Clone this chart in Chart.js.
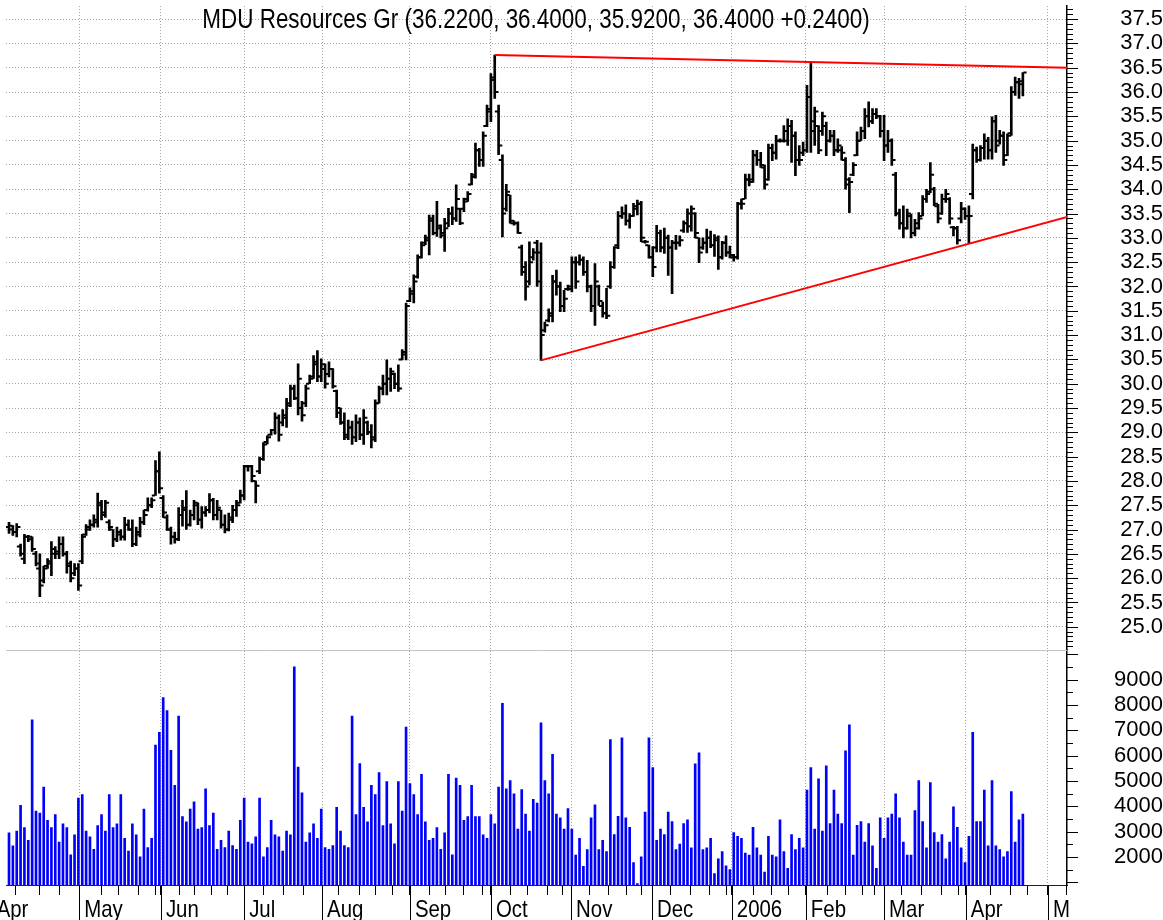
<!DOCTYPE html>
<html>
<head>
<meta charset="utf-8">
<script src="https://cdn.jsdelivr.net/npm/chart.js@4.4.1/dist/chart.umd.min.js"></script>
<style>
  html, body { margin: 0; padding: 0; background: #fff; overflow: hidden; }
  canvas { display: block; }
</style>
</head>
<body>
<canvas id="chart" width="1163" height="920"></canvas>
<script>
const title = 'MDU Resources Gr (36.2200, 36.4000, 35.9200, 36.4000 +0.2400)';

// daily bars, Apr 2005 - Apr 2006 (one entry per trading day)
const opens = [
  27.05, 27.0, 26.95, 26.65, 26.4, 26.85, 26.8, 26.5, 26.2, 25.95,
  26.25, 26.3, 26.5, 26.5, 26.7, 26.5, 26.25, 26.1, 26.2, 26.35,
  26.9, 27.05, 27.1, 27.15, 27.5, 27.35, 27.15, 27.0, 26.8, 26.9,
  26.85, 27.1, 27.0, 26.7, 26.9, 27.15, 27.4, 27.5, 27.7, 28.2,
  27.65, 27.25, 27.0, 26.85, 26.8, 27.3, 27.4, 27.1, 27.3, 27.5,
  27.2, 27.35, 27.4, 27.6, 27.3, 27.4, 27.1, 27.0, 27.2, 27.4,
  27.55, 27.7, 28.3, 28.3, 28.0, 28.2, 28.45, 28.8, 28.95, 29.05,
  29.3, 29.2, 29.3, 29.6, 29.9, 29.7, 29.5, 29.6, 30.0, 30.15,
  30.4, 30.15, 30.3, 30.2, 30.3, 29.85, 29.4, 29.2, 28.9, 29.1,
  28.9, 29.2, 28.95, 29.2, 29.0, 28.9, 29.6, 29.9, 30.0, 30.1,
  30.2, 30.0, 30.5, 30.6, 31.7, 31.9, 32.2, 32.6, 32.9, 33.0,
  33.4, 33.1, 33.2, 33.1, 33.3, 33.5, 33.4, 33.6, 33.6, 33.8,
  34.1, 34.3, 34.8, 34.6, 35.3, 35.6, 36.3, 35.6, 34.6, 33.6,
  33.88, 33.3, 33.3, 32.8, 32.3, 32.1, 32.6, 32.9, 32.7, 31.1,
  31.3, 31.4, 32.1, 32.0, 31.6, 31.95, 31.95, 32.5, 32.5, 32.55,
  32.3, 32.0, 31.6, 32.0, 31.6, 31.45, 32.0, 32.4, 32.85, 33.45,
  33.5, 33.35, 33.45, 33.6, 33.7, 32.92, 32.85, 32.6, 32.8, 33.1,
  32.8, 33.0, 32.8, 32.9, 32.9, 33.15, 33.3, 33.5, 33.5, 33.0,
  32.8, 32.9, 33.0, 32.85, 32.95, 32.6, 32.9, 32.7, 32.6, 32.6,
  33.7, 33.8, 34.2, 34.2, 34.7, 34.6, 34.45, 34.2, 34.85, 34.75,
  35.0, 35.0, 35.0, 35.3, 35.1, 34.6, 34.75, 34.8, 35.9, 35.4,
  35.3, 35.2, 35.3, 35.0, 35.1, 34.8, 34.8, 34.6, 34.1, 34.3,
  34.7, 35.0, 35.2, 35.5, 35.4, 35.55, 35.5, 35.2, 34.9, 35.0,
  34.3, 33.5, 33.3, 33.2, 33.45, 33.1, 33.2, 33.45, 33.8, 33.95,
  34.0, 33.65, 33.5, 33.8, 33.8, 33.22, 33.2, 33.4, 33.6, 33.45,
  33.9, 34.8, 34.6, 34.85, 35.0, 34.8, 35.4, 35.0, 35.1, 34.7,
  35.15, 36.0, 36.2, 36.22
];
const highs = [
  27.15, 27.08, 27.12, 26.7, 26.9, 26.88, 26.85, 26.55, 26.5, 26.25,
  26.4, 26.75, 26.65, 26.85, 26.85, 26.55, 26.35, 26.3, 26.3, 26.9,
  27.1, 27.2, 27.3, 27.75, 27.6, 27.6, 27.2, 27.0, 27.05, 27.0,
  27.25, 27.2, 27.2, 27.05, 27.25, 27.4, 27.65, 27.65, 28.42, 28.6,
  27.7, 27.3, 27.05, 26.95, 27.45, 27.6, 27.8, 27.4, 27.6, 27.55,
  27.47, 27.47, 27.74, 27.64, 27.6, 27.4, 27.3, 27.34, 27.5, 27.6,
  27.81, 28.32, 28.32, 28.32, 28.0, 28.49, 28.79, 28.93, 29.06, 29.4,
  29.36, 29.47, 29.7, 29.97, 29.97, 30.41, 29.64, 29.97, 30.18, 30.58,
  30.68, 30.51, 30.41, 30.45, 30.31, 29.87, 29.5, 29.4, 29.25, 29.23,
  29.36, 29.3, 29.47, 29.23, 29.16, 29.67, 29.95, 30.18, 30.49, 30.32,
  30.22, 30.39, 30.7, 31.66, 31.97, 32.24, 32.65, 32.92, 33.06, 33.47,
  33.47, 33.75, 33.27, 33.4, 33.61, 33.64, 34.09, 33.61, 33.82, 33.95,
  34.33, 34.95, 34.84, 35.18, 35.73, 36.38, 36.76, 35.73, 34.71, 34.1,
  33.88, 33.35, 33.33, 32.85, 32.51, 32.92, 32.78, 32.95, 32.9, 31.27,
  31.54, 32.23, 32.34, 32.09, 31.92, 32.03, 32.61, 32.61, 32.65, 32.61,
  32.54, 32.03, 32.47, 32.03, 31.68, 31.96, 32.51, 32.82, 33.54, 33.64,
  33.68, 33.5, 33.71, 33.78, 33.75, 32.95, 32.85, 32.82, 33.26, 33.16,
  33.2, 33.06, 32.95, 33.05, 33.04, 33.35, 33.6, 33.66, 33.52, 33.0,
  33.0, 33.18, 33.14, 33.07, 33.04, 32.93, 33.04, 32.83, 32.66, 33.73,
  33.8, 34.31, 34.31, 34.8, 34.8, 34.76, 34.49, 34.93, 34.93, 35.11,
  35.04, 35.31, 35.45, 35.42, 35.18, 34.9, 34.97, 36.14, 36.62, 35.69,
  35.31, 35.59, 35.38, 35.21, 35.21, 35.04, 34.88, 34.65, 34.24, 34.55,
  35.18, 35.28, 35.66, 35.8, 35.66, 35.66, 35.52, 35.52, 35.21, 35.04,
  34.35, 33.59, 33.66, 33.59, 33.49, 33.38, 33.52, 33.87, 34.0, 34.55,
  34.04, 33.69, 33.9, 34.0, 33.83, 33.24, 33.24, 33.73, 33.62, 33.66,
  34.93, 34.87, 34.9, 35.14, 35.07, 35.49, 35.52, 35.21, 35.18, 35.14,
  36.11, 36.31, 36.28, 36.4
];
const lows = [
  26.92, 26.88, 26.85, 26.45, 26.3, 26.75, 26.55, 26.25, 25.62, 25.9,
  26.2, 26.05, 26.4, 26.4, 26.45, 26.1, 25.92, 26.05, 25.75, 26.3,
  26.88, 26.98, 27.05, 27.05, 27.2, 27.25, 26.98, 26.65, 26.75, 26.78,
  26.78, 26.98, 26.65, 26.67, 26.85, 27.1, 27.38, 27.45, 27.7, 27.75,
  27.25, 26.98, 26.7, 26.72, 26.77, 27.07, 27.0, 27.07, 27.2, 27.1,
  27.03, 27.27, 27.34, 27.2, 27.2, 27.03, 26.93, 26.97, 27.14, 27.27,
  27.54, 27.61, 28.2, 27.98, 27.55, 28.15, 28.42, 28.76, 28.94, 28.96,
  28.82, 29.13, 29.1, 29.53, 29.67, 29.36, 29.23, 29.53, 30.0, 30.11,
  30.04, 30.04, 29.91, 30.14, 29.91, 29.3, 29.16, 28.85, 28.85, 28.75,
  28.81, 28.85, 28.75, 28.95, 28.68, 28.81, 29.6, 29.77, 29.77, 29.84,
  29.9, 29.84, 30.49, 30.49, 31.69, 31.66, 32.17, 32.58, 32.86, 32.65,
  33.06, 33.03, 33.0, 32.72, 33.23, 33.27, 33.34, 33.27, 33.54, 33.75,
  34.09, 34.23, 34.47, 34.47, 35.29, 35.39, 35.87, 34.71, 33.02, 33.55,
  33.3, 33.26, 33.09, 32.23, 31.72, 32.03, 32.54, 32.0, 30.48, 31.06,
  31.27, 31.27, 31.82, 31.48, 31.48, 31.92, 31.89, 31.96, 32.44, 32.23,
  31.89, 31.48, 31.2, 31.61, 31.37, 31.34, 31.96, 32.37, 32.78, 33.4,
  33.26, 33.2, 33.44, 33.47, 32.92, 32.89, 32.58, 32.2, 32.71, 32.71,
  32.68, 32.23, 31.85, 32.76, 32.83, 33.11, 33.11, 33.14, 33.0, 32.49,
  32.76, 32.69, 32.8, 32.62, 32.35, 32.56, 32.62, 32.59, 32.52, 32.56,
  33.59, 33.8, 34.07, 34.14, 34.49, 34.45, 34.0, 34.18, 34.59, 34.62,
  34.97, 34.97, 34.9, 34.55, 34.28, 34.49, 34.69, 34.76, 34.76, 34.9,
  34.73, 35.11, 34.69, 34.97, 34.69, 34.76, 34.6, 34.0, 33.52, 34.28,
  34.69, 35.0, 35.04, 35.28, 35.35, 35.45, 35.07, 34.59, 34.76, 34.49,
  33.45, 33.18, 33.0, 33.18, 33.0, 33.04, 33.18, 33.45, 33.73, 33.93,
  33.66, 33.31, 33.48, 33.73, 33.28, 33.04, 32.87, 33.31, 33.38, 32.9,
  33.8, 34.55, 34.58, 34.62, 34.62, 34.62, 34.76, 34.93, 34.49, 34.69,
  35.11, 35.93, 35.87, 35.92
];
const closes = [
  27.08, 26.95, 27.05, 26.5, 26.85, 26.85, 26.6, 26.3, 25.85, 26.2,
  26.35, 26.6, 26.55, 26.7, 26.5, 26.3, 26.0, 26.2, 25.85, 26.85,
  27.0, 27.1, 27.2, 27.55, 27.3, 27.55, 27.05, 26.8, 26.95, 26.85,
  27.1, 27.0, 26.7, 26.95, 27.15, 27.3, 27.5, 27.6, 28.2, 27.85,
  27.35, 27.0, 26.85, 26.8, 27.3, 27.45, 27.1, 27.3, 27.55, 27.2,
  27.35, 27.4, 27.6, 27.3, 27.45, 27.1, 27.0, 27.25, 27.4, 27.5,
  27.7, 28.3, 28.3, 28.1, 27.9, 28.45, 28.75, 28.9, 29.05, 29.3,
  28.95, 29.35, 29.55, 29.9, 29.7, 30.1, 29.35, 29.9, 30.1, 30.45,
  30.15, 30.4, 30.0, 30.3, 29.95, 29.5, 29.2, 28.95, 29.1, 28.9,
  29.2, 28.95, 29.3, 29.0, 28.85, 29.6, 29.9, 30.0, 30.1, 30.25,
  30.0, 29.9, 30.65, 31.6, 31.85, 32.1, 32.6, 32.85, 32.95, 33.35,
  33.1, 33.25, 33.05, 33.2, 33.5, 33.4, 33.8, 33.3, 33.75, 33.9,
  34.25, 34.8, 34.6, 35.1, 35.65, 36.25, 36.0, 34.9, 33.5, 33.95,
  33.35, 33.3, 33.1, 32.4, 32.0, 32.5, 32.7, 32.1, 31.0, 31.2,
  31.45, 32.1, 32.0, 31.6, 31.75, 32.0, 32.5, 32.1, 32.55, 32.3,
  32.0, 31.6, 32.1, 31.7, 31.45, 31.4, 32.4, 32.8, 33.45, 33.5,
  33.35, 33.45, 33.65, 33.7, 33.0, 32.92, 32.6, 32.4, 33.1, 32.8,
  33.0, 32.8, 32.9, 32.9, 32.95, 33.3, 33.24, 33.6, 33.1, 32.7,
  32.9, 33.0, 32.85, 33.0, 32.6, 32.9, 32.7, 32.65, 32.6, 33.7,
  33.7, 34.2, 34.15, 34.7, 34.6, 34.5, 34.1, 34.85, 34.75, 35.0,
  35.0, 35.2, 35.3, 35.1, 34.6, 34.6, 34.8, 35.9, 35.2, 35.6,
  34.8, 35.5, 35.0, 35.1, 34.8, 34.9, 34.75, 34.2, 34.15, 34.5,
  35.0, 35.2, 35.5, 35.4, 35.55, 35.5, 35.2, 34.9, 35.0, 34.6,
  33.5, 33.3, 33.2, 33.5, 33.1, 33.3, 33.4, 33.8, 33.9, 34.3,
  33.7, 33.4, 33.8, 33.9, 33.4, 33.2, 32.95, 33.6, 33.45, 33.45,
  34.8, 34.6, 34.85, 35.0, 34.8, 35.4, 34.9, 35.1, 34.6, 35.1,
  36.0, 36.2, 36.16, 36.4
];
const volumes = [
  2952, 2432, 3017, 4031, 3160, 2653, 7411, 3810, 3732, 4759,
  3446, 3160, 3667, 2588, 3303, 3160, 2081, 2874, 4317, 4460,
  3017, 2796, 2302, 3238, 3667, 3017, 4460, 3160, 3303, 4460,
  2731, 2224, 3303, 2874, 2003, 3888, 2367, 2731, 6410, 6917,
  8282, 7775, 6202, 4824, 7554, 3589, 3381, 3888, 4174, 3095,
  3160, 4681, 3238, 3732, 2302, 2653, 2367, 3017, 2445, 2302,
  3446, 4317, 2588, 2510, 2796, 4317, 2003, 2367, 3446, 2874,
  2796, 2224, 3017, 2874, 9504, 5539, 4525, 2588, 2952, 3303,
  2731, 3888, 2367, 2302, 2445, 3953, 3017, 2445, 2367, 7554,
  3667, 5682, 3953, 3381, 4824, 4460, 5331, 3238, 4967, 3303,
  2510, 4967, 3810, 7125, 4889, 4460, 3667, 5253, 3381, 2653,
  2731, 3160, 2302, 2952, 5253, 2081, 5110, 4824, 3446, 3589,
  4824, 3589, 3589, 2874, 2731, 3667, 3303, 4759, 8061, 4681,
  5010, 4493, 3101, 4652, 3684, 3021, 4268, 4122, 7291, 5010,
  4493, 6044, 3684, 3538, 3101, 3910, 3101, 2066, 2729, 1629,
  2292, 3538, 4055, 2292, 2650, 2212, 6628, 2875, 3605, 6694,
  3538, 3167, 1775, 950, 2000, 3764, 6694, 5527, 2650, 3101,
  2875, 3764, 3393, 2292, 2504, 3313, 3459, 2358, 5673, 6111,
  2292, 2358, 2729, 1337, 1921, 2212, 1642, 1496, 2955, 2809,
  2729, 2146, 2066, 3167, 2358, 2066, 1403, 2809, 2066, 2000,
  3459, 2212, 1549, 2875, 2292, 2729, 2358, 4639, 5527, 3101,
  5076, 3021, 5594, 3313, 4639, 3684, 3313, 6190, 7211, 2066,
  3247, 3393, 2584, 3313, 2438, 1549, 3538, 2729, 3538, 3684,
  4493, 3538, 2584, 2066, 2066, 3830, 5010, 3393, 2358, 4931,
  2955, 2584, 2875, 1921, 2584, 3976, 3167, 2358, 1775, 2809,
  6919, 3393, 3393, 4639, 2438, 5010, 2438, 2292, 2000, 2212,
  4573, 2584, 3459, 3684
];

// x axis: bar index where each month starts, and weekly ticks
const monthTicks = [-4.5, 18.2, 39.4, 61, 81.2, 104, 125, 145.8, 166.8, 187.5, 206.7, 227, 248.2, 269.5];
const monthLabels = ['Apr', 'May', 'Jun', 'Jul', 'Aug', 'Sep', 'Oct', 'Nov', 'Dec', '2006', 'Feb', 'Mar', 'Apr', 'M'];
const weekTicks = [1.8, 7.8, 13, 23.9, 28.5, 33.5, 37.9, 44.1, 48, 52.4, 56.8, 65.9, 71.3, 76.3,
  85.6, 90.8, 95.2, 99.6, 109, 113.1, 118, 122.7, 130.2, 134.6, 139.6, 143.7, 150.7, 155.4,
  160.3, 164.2, 171.7, 176.7, 181.6, 186, 193, 197.9, 202.1, 212.2, 216.9, 221.3, 224.6,
  231.4, 236.6, 241.8, 246.2, 254.7, 259.7, 264.1, 274.2];

// trend lines drawn on the chart: [bar index, price]
const upperTrend = [[126, 36.76], [274.5, 36.5]];
const lowerTrend = [[138, 30.48], [274.5, 33.43]];

const sans = '"Liberation Sans", Arial, sans-serif';
const gridGrey = '#a4a4a4';
const clear = 'rgba(0,0,0,0)';

const priceTicks = [];
for (let k = 246; k <= 377; k++) priceTicks.push(k / 10);
const volTicks = [];
for (let v = 1000; v <= 10000; v += 500) volTicks.push(v);

const isMajorPrice = v => Math.round(v * 10) % 5 === 0;
const isMonth = v => monthTicks.indexOf(v) >= 0;

const hlBars = highs.map((h, i) => ({x: i, y: [lows[i], h]}));
const openMarks = opens.map((o, i) => ({x: i - 0.55, y: o}));
const closeMarks = closes.map((c, i) => ({x: i + 0.55, y: c}));
const volBars = volumes.map((v, i) => ({x: i, y: v}));

// condensed text (no narrow face installed, so squeeze horizontally)
function narrowText(ctx, text, x, y, size, squeeze, align) {
  ctx.save();
  ctx.font = size + 'px ' + sans;
  ctx.textAlign = align;
  ctx.textBaseline = 'alphabetic';
  ctx.translate(x, y);
  ctx.scale(squeeze, 1);
  ctx.fillText(text, 0, 0);
  ctx.restore();
}

const decor = {
  id: 'decor',
  beforeDatasetsDraw(chart) {
    const {ctx, chartArea} = chart;
    const yv = chart.scales.yv;
    ctx.save();
    ctx.strokeStyle = '#c4c4c4';
    ctx.lineWidth = 1;
    ctx.beginPath();
    ctx.moveTo(chartArea.left, Math.round(yv.top) + 0.5);
    ctx.lineTo(chartArea.right, Math.round(yv.top) + 0.5);
    ctx.stroke();
    ctx.restore();
  },
  afterDraw(chart) {
    const {ctx, chartArea} = chart;
    const xs = chart.scales.x, y = chart.scales.y, yv = chart.scales.yv;
    const x0 = chartArea.right;
    ctx.save();
    ctx.strokeStyle = '#000';
    ctx.lineWidth = 1;
    ctx.beginPath();
    y.ticks.forEach(t => {
      const py = Math.round(y.getPixelForValue(t.value)) + 0.5;
      ctx.moveTo(x0, py);
      ctx.lineTo(x0 + (isMajorPrice(t.value) ? 11 : 6), py);
    });
    yv.ticks.forEach(t => {
      const py = Math.round(yv.getPixelForValue(t.value)) + 0.5;
      ctx.moveTo(x0, py);
      ctx.lineTo(x0 + (t.value % 1000 === 0 ? 11 : 6), py);
    });
    // month separators below the plot
    monthTicks.forEach(m => {
      const px = Math.round(xs.getPixelForValue(m)) + 0.5;
      ctx.moveTo(px, chartArea.bottom);
      ctx.lineTo(px, chart.height);
    });
    ctx.stroke();

    ctx.fillStyle = '#000';
    monthTicks.forEach((m, k) => {
      narrowText(ctx, monthLabels[k], xs.getPixelForValue(m) + 5, 917, 24, 0.85, 'left');
    });
    narrowText(ctx, title, 536, 28, 27, 0.832, 'center');
    ctx.restore();
  }
};

new Chart(document.getElementById('chart'), {
  type: 'bar',
  data: {
    datasets: [
      {type: 'line', data: upperTrend.map(p => ({x: p[0], y: p[1]})), borderColor: '#ff0000', borderWidth: 2,
        pointRadius: 0, yAxisID: 'y', order: 0},
      {type: 'line', data: lowerTrend.map(p => ({x: p[0], y: p[1]})), borderColor: '#ff0000', borderWidth: 2,
        pointRadius: 0, yAxisID: 'y', order: 0},
      {type: 'bar', data: hlBars, backgroundColor: '#000', barThickness: 2, grouped: false, yAxisID: 'y', order: 1},
      {type: 'scatter', data: openMarks, pointStyle: 'line', pointRadius: 1.6, pointBorderWidth: 2,
        pointBorderColor: '#000', borderColor: '#000', yAxisID: 'y', order: 1},
      {type: 'scatter', data: closeMarks, pointStyle: 'line', pointRadius: 1.6, pointBorderWidth: 2,
        pointBorderColor: '#000', borderColor: '#000', yAxisID: 'y', order: 1},
      {type: 'bar', data: volBars, backgroundColor: '#0000ff', barThickness: 2, grouped: false, yAxisID: 'yv', order: 2}
    ]
  },
  options: {
    responsive: false,
    animation: false,
    events: [],
    layout: {padding: {left: 6, top: 0, right: 0, bottom: 0}},
    plugins: {legend: {display: false}, tooltip: {enabled: false}},
    scales: {
      x: {
        type: 'linear', position: 'bottom', min: -0.78, max: 274.45, offset: false,
        afterBuildTicks: s => { s.ticks = monthTicks.concat(weekTicks).sort((a, b) => a - b).map(v => ({value: v})); },
        afterFit: s => { s.height = 35; s.paddingLeft = 0; s.paddingRight = 0; },
        ticks: {autoSkip: false, maxRotation: 0, minRotation: 0, padding: 0, callback: () => ''},
        grid: {offset: false, color: c => (c.tick && isMonth(c.tick.value)) ? gridGrey : clear,
          tickColor: '#000', tickLength: 10, lineWidth: 1},
        border: {color: '#222', width: 1, dash: [1, 2]}
      },
      y: {
        type: 'linear', position: 'right', stack: 'right', stackWeight: 648, min: 24.53, max: 37.77,
        afterBuildTicks: s => { s.ticks = priceTicks.map(v => ({value: v})); },
        afterFit: s => { s.width = 96; s.paddingTop = 0; s.paddingBottom = 0; },
        ticks: {
          autoSkip: false, crossAlign: 'far', padding: 36, color: '#000', font: {family: sans, size: 22},
          callback: v => (isMajorPrice(v) && v >= 25 && v <= 37.5) ? v.toFixed(1) : ''
        },
        grid: {drawTicks: false, color: c => (c.tick && isMajorPrice(c.tick.value)) ? gridGrey : clear, lineWidth: 1},
        border: {color: '#000', width: 1.5, dash: [1, 2]}
      },
      yv: {
        type: 'linear', position: 'right', stack: 'right', stackWeight: 237, min: 890, max: 10180,
        afterBuildTicks: s => { s.ticks = volTicks.map(v => ({value: v})); },
        afterFit: s => { s.width = 96; s.paddingTop = 0; s.paddingBottom = 0; },
        ticks: {
          autoSkip: false, crossAlign: 'far', padding: 30, color: '#000', font: {family: sans, size: 22},
          callback: v => (v % 1000 === 0 && v >= 2000 && v <= 9000) ? String(v) : ''
        },
        grid: {drawTicks: false, drawOnChartArea: false},
        border: {color: '#000', width: 1.5}
      }
    }
  },
  plugins: [decor]
});
</script>
</body>
</html>
